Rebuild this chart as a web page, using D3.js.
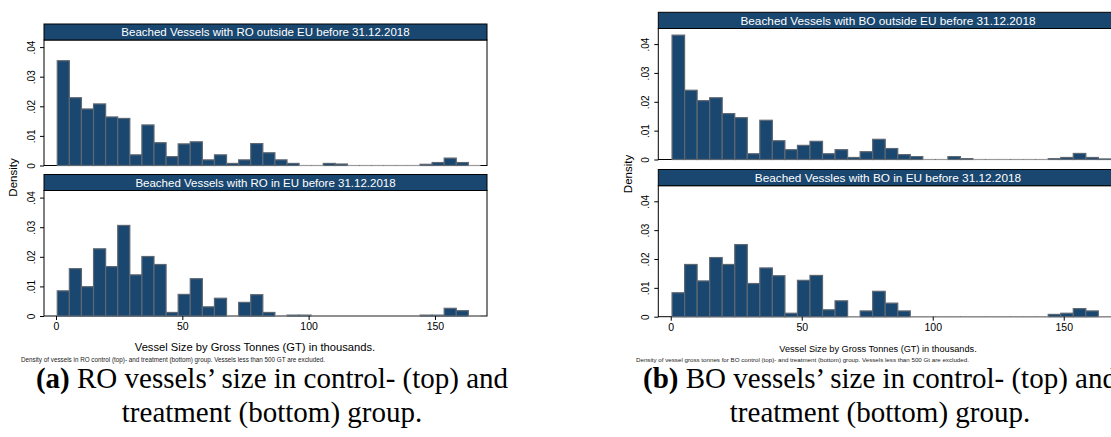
<!DOCTYPE html>
<html>
<head>
<meta charset="utf-8">
<script src="https://cdn.jsdelivr.net/npm/d3@7"></script>
<style>
  body { margin: 0; background: #fff; }
  svg { display: block; font-family: "Liberation Sans", Arial, sans-serif; }
</style>
</head>
<body>
<div id="chart"></div>
<script>
// Гистограммы: общие бины, нижняя граница и ширина (тыс. GT)
const binStart = 0.5;
const binWidth = 4.786;

// Плотности по бинам (35 штук)
const roOutside = [0.0354, 0.0229, 0.0191, 0.0208, 0.0164, 0.0159, 0.0036, 0.0137, 0.0077, 0.0030,
  0.0073, 0.0080, 0.0019, 0.0036, 0.0007, 0.0019, 0.0074, 0.0043, 0.0019, 0.0007,
  0, 0, 0.0007, 0.0005, 0, 0, 0, 0, 0, 0, 0.0004, 0.0010, 0.0025, 0.0010, 0];
const roInside = [0.0085, 0.0160, 0.0099, 0.0227, 0.0167, 0.0306, 0.0139, 0.0201, 0.0174, 0.0012,
  0.0073, 0.0126, 0.0031, 0.0060, 0, 0.0046, 0.0072, 0.0012, 0, 0.0003,
  0.0003, 0, 0, 0, 0, 0, 0, 0, 0, 0, 0.0003, 0.0003, 0.0026, 0.0018, 0];
const boOutside = [0.0431, 0.0240, 0.0204, 0.0214, 0.0159, 0.0145, 0.0020, 0.0136, 0.0065, 0.0034,
  0.0049, 0.0063, 0.0020, 0.0034, 0.0007, 0.0027, 0.0070, 0.0038, 0.0017, 0.0010,
  0, 0, 0.0010, 0.0003, 0, 0, 0, 0, 0, 0, 0.0003, 0.0007, 0.0021, 0.0007, 0.0002];
const boInside = [0.0083, 0.0181, 0.0124, 0.0205, 0.0181, 0.0250, 0.0115, 0.0169, 0.0142, 0.0012,
  0.0126, 0.0143, 0.0024, 0.0055, 0, 0.0020, 0.0088, 0.0047, 0.0020, 0,
  0, 0, 0, 0, 0, 0, 0, 0, 0, 0, 0.0008, 0.0012, 0.0028, 0.0020, 0];

// Подписи осей
const xTicks = [0, 50, 100, 150];
const yTicks = [0, 0.01, 0.02, 0.03, 0.04];
const yTickLabels = ["0", ".01", ".02", ".03", ".04"];

// Заголовки
const roTitles = ["Beached Vessels with RO outside EU before 31.12.2018", "Beached Vessels with RO in EU before 31.12.2018"];
const boTitles = ["Beached Vessels with BO outside EU before 31.12.2018", "Beached Vessles with BO in EU before 31.12.2018"];
const xTitle = "Vessel Size by Gross Tonnes (GT) in thousands.";
const roNote = "Density of vessels in RO control (top)- and treatment (bottom) group. Vessels less than 500 GT are excluded.";
const boNote = "Density of vessel gross tonnes for BO control (top)- and treatment (bottom) group. Vessels less than 500 Gt are excluded.";
const captions = [
  ["(a)", " RO vessels’ size in control- (top) and", "treatment (bottom) group."],
  ["(b)", " BO vessels’ size in control- (top) and", "treatment (bottom) group."]
];

const navy = "#1a476f";

const svg = d3.select("#chart").append("svg")
    .attr("width", 1111)
    .attr("height", 437);

// Панели
const panels = [
  { left: 44, right: 487, top: 24, hdrH: 16, plotH: 125.5, gap: 9, yMax: 0.0424,
    series: [roOutside, roInside], titles: roTitles, hdrFont: 11.5,
    labOff: 9, densX: 17, densY: 177.5, xTitleX: 255, xTitleFont: 11.2, noteX: 21, noteFont: 6.3,
    note: roNote, capX: 272, cap: captions[0] },
  { left: 658.3, right: 1117.7, top: 12.3, hdrH: 16.2, plotH: 131, gap: 10, yMax: 0.0454,
    series: [boOutside, boInside], titles: boTitles, hdrFont: 11.8,
    labOff: 9.5, densX: 631.5, densY: 174, xTitleX: 878, xTitleFont: 9.2, noteX: 636, noteFont: 6.2,
    note: boNote, capX: 880, cap: captions[1] }
];

panels.forEach(p => {
    const x = d3.scaleLinear().domain([-4.75, 170.6]).range([p.left, p.right]);
    let lastBase = 0;

    p.series.forEach((values, i) => {
        const hTop = p.top + i * (p.hdrH + p.plotH + p.gap);
        const plotTop = hTop + p.hdrH;
        const base = plotTop + p.plotH;
        lastBase = base;
        const y = d3.scaleLinear().domain([0, p.yMax]).range([base, plotTop]);

        // рамка области графика
        svg.append("rect")
            .attr("x", p.left).attr("y", plotTop)
            .attr("width", p.right - p.left).attr("height", p.plotH)
            .attr("fill", "none").attr("stroke", "#000").attr("stroke-width", 1);

        // ось Y
        const yAxis = d3.axisLeft(y)
            .tickValues(yTicks)
            .tickFormat((d, k) => yTickLabels[k])
            .tickSize(4);
        const gy = svg.append("g")
            .attr("transform", `translate(${p.left},0)`)
            .call(yAxis);
        gy.select(".domain").remove();
        gy.selectAll("line").attr("stroke", "#000");
        gy.selectAll("text")
            .attr("x", null).attr("dy", null)
            .attr("transform", `translate(${-p.labOff},0) rotate(-90)`)
            .attr("text-anchor", "middle")
            .style("font-size", "10px")
            .style("font-family", "Liberation Sans, Arial, sans-serif")
            .attr("fill", "#000");

        // столбцы
        const bins = values.map((v, k) => ({ x0: binStart + k * binWidth, x1: binStart + (k + 1) * binWidth, v }));
        svg.selectAll(null)
            .data(bins.filter(d => d.v > 0))
            .enter()
            .append("rect")
            .attr("x", d => x(d.x0))
            .attr("y", d => y(d.v))
            .attr("width", d => x(d.x1) - x(d.x0))
            .attr("height", d => base - y(d.v))
            .attr("fill", navy)
            .attr("stroke", "#5e6873")
            .attr("stroke-width", 1.2);
        svg.selectAll(null)
            .data(bins.filter(d => d.v === 0))
            .enter()
            .append("line")
            .attr("x1", d => x(d.x0))
            .attr("x2", d => x(d.x1))
            .attr("y1", base)
            .attr("y2", base)
            .attr("stroke", "#9a9a9a")
            .attr("stroke-width", 1.2);

        // заголовок подграфика
        svg.append("rect")
            .attr("x", p.left).attr("y", hTop)
            .attr("width", p.right - p.left).attr("height", p.hdrH)
            .attr("fill", navy).attr("stroke", "#000").attr("stroke-width", 1);
        svg.append("text")
            .attr("x", (p.left + p.right) / 2)
            .attr("y", hTop + p.hdrH / 2 + p.hdrFont * 0.36)
            .attr("text-anchor", "middle")
            .attr("fill", "#fff")
            .style("font-size", p.hdrFont + "px")
            .text(p.titles[i]);

        // ось X только у нижнего
        if (i === p.series.length - 1) {
            const gx = svg.append("g")
                .attr("transform", `translate(0,${base})`)
                .call(d3.axisBottom(x).tickValues(xTicks).tickSize(4).tickPadding(3));
            gx.select(".domain").remove();
            gx.selectAll("line").attr("stroke", "#000");
            gx.selectAll("text")
                .style("font-size", "10.5px")
                .style("font-family", "Liberation Sans, Arial, sans-serif")
                .attr("fill", "#000");
        }
    });

    // Density
    svg.append("text")
        .attr("transform", `translate(${p.densX},${p.densY}) rotate(-90)`)
        .attr("text-anchor", "middle")
        .style("font-size", "11.5px")
        .text("Density");

    // подпись оси X
    svg.append("text")
        .attr("x", p.xTitleX)
        .attr("y", lastBase + 35)
        .attr("text-anchor", "middle")
        .style("font-size", p.xTitleFont + "px")
        .text(xTitle);

    // примечание
    svg.append("text")
        .attr("x", p.noteX)
        .attr("y", lastBase + 45.5)
        .style("font-size", p.noteFont + "px")
        .attr("fill", "#222")
        .text(p.note);

    // подпись под рисунком
    const cap1 = svg.append("text")
        .attr("x", p.capX)
        .attr("y", 388)
        .attr("text-anchor", "middle")
        .style("font-family", "Liberation Serif, serif")
        .style("font-size", "29px");
    cap1.append("tspan").style("font-weight", "bold").text(p.cap[0]);
    cap1.append("tspan").text(p.cap[1]);
    svg.append("text")
        .attr("x", p.capX)
        .attr("y", 422)
        .attr("text-anchor", "middle")
        .style("font-family", "Liberation Serif, serif")
        .style("font-size", "29px")
        .text(p.cap[2]);
});
</script>
</body>
</html>
